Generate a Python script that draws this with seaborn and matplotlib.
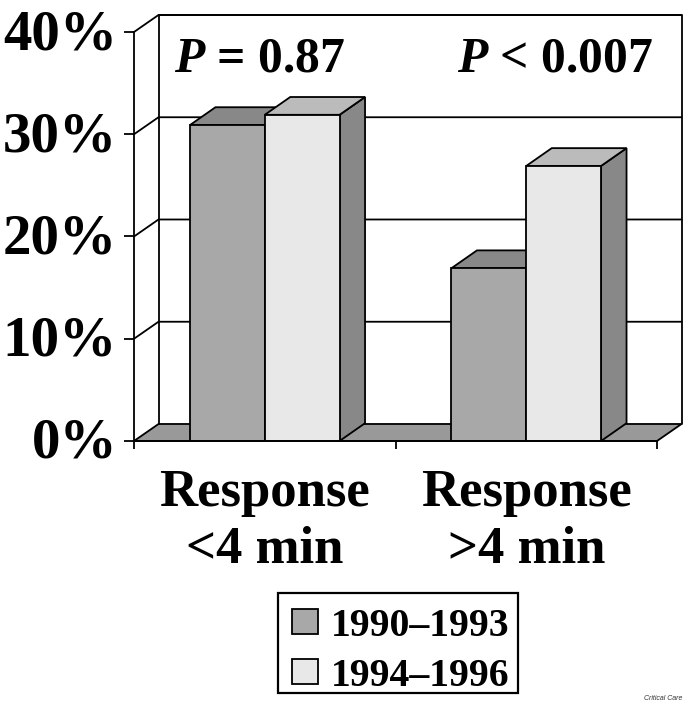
import pandas as pd
import matplotlib
matplotlib.use("Agg")
import matplotlib.pyplot as plt
import seaborn as sns
from matplotlib.patches import Polygon, Rectangle
from matplotlib.transforms import ScaledTranslation

# --- DATA ---
categories = ["Response\n<4 min", "Response\n>4 min"]
periods = ["1990–1993", "1994–1996"]
values_early = [30.9, 16.9]
values_late = [31.9, 26.9]
y_ticks = [0, 10, 20, 30, 40]
p_labels = ["= 0.87", "< 0.007"]

# --- STYLE ---
W, H = 685, 702
FRONT_COLORS = ["#a8a8a8", "#e8e8e8"]
TOP_COLORS = ["#888888", "#bbbbbb"]
SIDE_COLOR = "#888888"
FLOOR_COLOR = "#999999"
LW = 1.3
# depth of the fake 3d box, in data units
DX = 24.5 / 261.5
DY = 17 / 10.22
BAR_DX = 25.5 / 261.5
BAR_DY = 17.8 / 10.22

sns.set_theme(style="white")
plt.rcParams["font.family"] = ["Liberation Serif", "DejaVu Serif"]
plt.rcParams["font.weight"] = "bold"
plt.rcParams["mathtext.fontset"] = "custom"
plt.rcParams["mathtext.bfit"] = "Liberation Serif:italic:bold"

df = pd.DataFrame({
    "category": categories * 2,
    "period": [periods[0]] * 2 + [periods[1]] * 2,
    "value": values_early + values_late,
})

fig = plt.figure(figsize=(W / 100, H / 100), dpi=100)
ax = fig.add_axes([134 / W, 1 - 441 / H, 523 / W, 409 / H])
ax.patch.set_alpha(0)

sns.barplot(
    data=df, x="category", y="value", hue="period", palette=FRONT_COLORS,
    width=0.572, gap=0, saturation=1, edgecolor="black", linewidth=LW,
    ax=ax, zorder=4,
)
ax.set_xlim(-0.5, 1.5)
ax.set_ylim(0, 40)
ax.set_xlabel("")
ax.set_ylabel("")


def face(points, color, z):
    ax.add_patch(Polygon(points, closed=True, facecolor=color, edgecolor="black",
                         linewidth=LW, zorder=z, clip_on=False, joinstyle="miter"))


x0, x1 = ax.get_xlim()
y1 = ax.get_ylim()[1]

# floor and walls
face([(x0, 0), (x1, 0), (x1 + DX, DY), (x0 + DX, DY)], FLOOR_COLOR, 1)
ax.plot([x0 + DX, x0 + DX], [DY, y1 + DY], color="black", lw=LW, zorder=1.5, clip_on=False)
ax.plot([x0 + DX, x1 + DX, x1 + DX], [y1 + DY, y1 + DY, DY], color="black", lw=LW,
        zorder=1.5, clip_on=False)
for t in y_ticks[1:]:
    ax.plot([x0, x0 + DX, x1 + DX], [t, t + DY, t + DY], color="black", lw=LW,
            zorder=1.5, clip_on=False)

# depth faces of the bars
for i, container in enumerate(ax.containers):
    for bar in container:
        left, right, top = bar.get_x(), bar.get_x() + bar.get_width(), bar.get_height()
        face([(right, 0), (right + BAR_DX, BAR_DY), (right + BAR_DX, top + BAR_DY), (right, top)], SIDE_COLOR, 2 + i)
        face([(left, top), (right, top), (right + BAR_DX, top + BAR_DY), (left + BAR_DX, top + BAR_DY)], TOP_COLORS[i], 2 + i)

# axes
for side in ["top", "right"]:
    ax.spines[side].set_visible(False)
for side in ["left", "bottom"]:
    ax.spines[side].set_linewidth(LW)
    ax.spines[side].set_color("black")
    ax.spines[side].set_zorder(6)

ax.set_yticks(y_ticks, [f"{t}%" for t in y_ticks])
ax.set_xticks([-0.5, 0.5, 1.5], ["", "", ""])
ax.set_xticks([0, 1], categories, minor=True)
ax.tick_params(axis="y", which="major", left=True, length=7.2, width=LW, color="black",
               pad=5, labelsize=41, labelcolor="black")
ax.tick_params(axis="x", which="major", bottom=True, length=6, width=LW, color="black")
ax.tick_params(axis="x", which="minor", bottom=False, length=0, pad=20.5, labelsize=38, labelcolor="black")
for lab in ax.get_xticklabels(minor=True):
    lab.set_linespacing(1.23)
# tick labels sit a bit high against their ticks in the original
shift_up = ScaledTranslation(0, 3 / 100, fig.dpi_scale_trans)
for lab in ax.get_yticklabels():
    lab.set_transform(lab.get_transform() + shift_up)

# p values
for xp, txt in zip([260, 555], p_labels):
    fig.text(xp / W, 1 - 71 / H, r"$\mathbfit{P}$ " + txt, ha="center", va="baseline",
             fontsize=35.7, color="black")

# legend, frame drawn separately to get the tight box of the original
handles, labels = ax.get_legend_handles_labels()
leg = ax.legend(
    handles, labels, loc="upper left", bbox_to_anchor=(279 / W, 1 - 595 / H),
    bbox_transform=fig.transFigure, borderaxespad=0, fontsize=28.6, frameon=False,
    handlelength=0.66, handleheight=0.58, handletextpad=0.33, borderpad=0.32,
    labelspacing=0.33, labelcolor="black",
)
leg.set_zorder(10)
fig.add_artist(Rectangle((278 / W, 1 - 693 / H), 240 / W, 100 / H, transform=fig.transFigure,
                         facecolor="none", edgecolor="black", linewidth=1.6))

fig.text(663 / W, 1 - 698 / H, "Critical Care", ha="center", va="center", fontsize=5,
         style="italic", weight="normal", family="Liberation Sans", color="#333333")

fig.savefig("out.png", dpi=100, facecolor="white")
